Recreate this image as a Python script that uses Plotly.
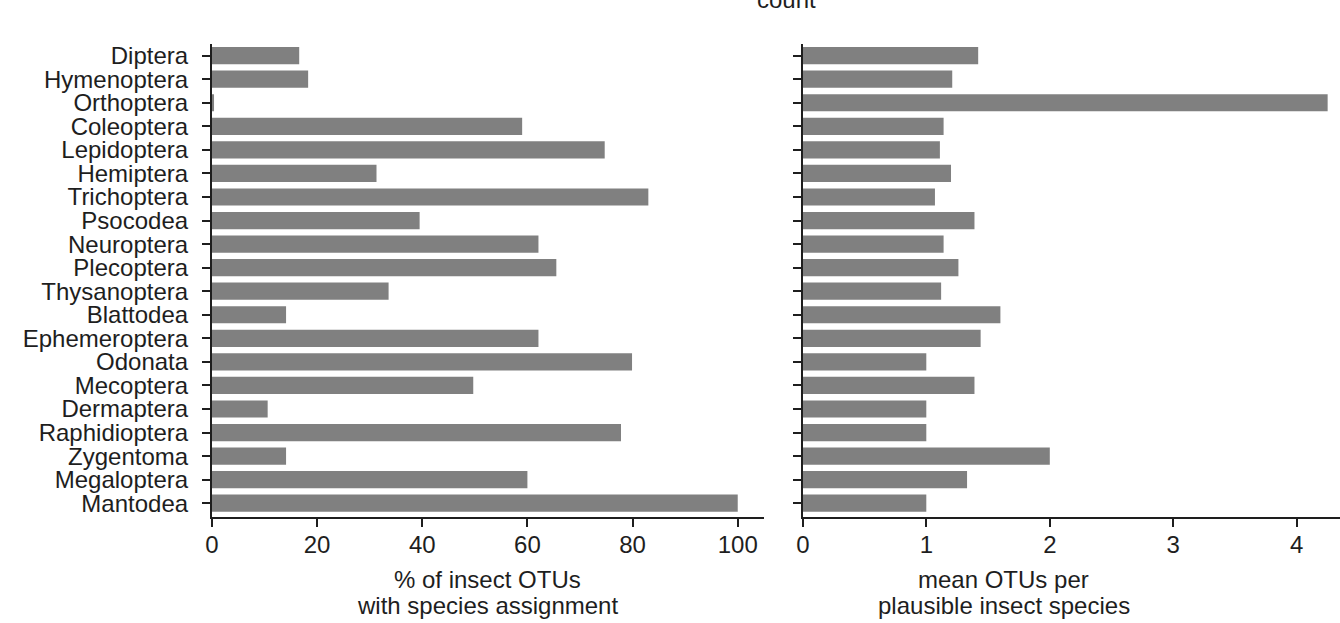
import plotly.graph_objects as go

# Insect orders, top to bottom
orders = [
    "Diptera", "Hymenoptera", "Orthoptera", "Coleoptera", "Lepidoptera",
    "Hemiptera", "Trichoptera", "Psocodea", "Neuroptera", "Plecoptera",
    "Thysanoptera", "Blattodea", "Ephemeroptera", "Odonata", "Mecoptera",
    "Dermaptera", "Raphidioptera", "Zygentoma", "Megaloptera", "Mantodea",
]

# % of insect OTUs with a species-level assignment
pct_assigned = [
    16.6, 18.3, 0.4, 59.0, 74.7,
    31.3, 83.0, 39.5, 62.1, 65.5,
    33.6, 14.1, 62.1, 79.9, 49.7,
    10.6, 77.8, 14.1, 60.0, 100.0,
]

# mean number of OTUs per plausible insect species
otus_per_species = [
    1.42, 1.21, 4.25, 1.14, 1.11,
    1.20, 1.07, 1.39, 1.14, 1.26,
    1.12, 1.60, 1.44, 1.00, 1.39,
    1.00, 1.00, 2.00, 1.33, 1.00,
]

left_ticks = [0, 20, 40, 60, 80, 100]
right_ticks = [0, 1, 2, 3, 4]

W, H = 1340, 623
BAR = "#808080"
INK = "#1e1e1e"
FONT = "Liberation Sans, Arial, sans-serif"


def px_x(p):
    return p / W


def px_y(p):
    return 1 - p / H


fig = go.Figure()
fig.add_trace(go.Bar(
    x=pct_assigned, y=orders, orientation="h",
    marker=dict(color=BAR, line=dict(width=0)),
    xaxis="x", yaxis="y", showlegend=False,
))
fig.add_trace(go.Bar(
    x=otus_per_species, y=orders, orientation="h",
    marker=dict(color=BAR, line=dict(width=0)),
    xaxis="x2", yaxis="y2", showlegend=False,
))

ydom = [px_y(517), px_y(42)]
common_y = dict(
    type="category", categoryorder="array", categoryarray=orders,
    tickmode="array", tickvals=orders, ticktext=orders,
    range=[19.6, -0.5], domain=ydom,
    showline=True, linecolor=INK, linewidth=2,
    ticks="outside", ticklen=8, tickwidth=2, tickcolor=INK,
    showgrid=False, zeroline=False, fixedrange=True,
)
common_x = dict(
    showline=True, linecolor=INK, linewidth=2,
    ticks="outside", ticklen=8, tickwidth=2, tickcolor=INK,
    showgrid=False, zeroline=False, ticklabelstandoff=-3,
    tickfont=dict(family=FONT, size=24, color=INK),
)

fig.update_layout(
    width=W, height=H,
    margin=dict(l=0, r=0, t=0, b=0),
    paper_bgcolor="white", plot_bgcolor="white",
    bargap=0.27,
    font=dict(family=FONT, color=INK),
    xaxis=dict(domain=[px_x(206), px_x(761)], range=[0, 105],
               tickvals=left_ticks, anchor="y", **common_x),
    yaxis=dict(anchor="x", showticklabels=True,
               tickfont=dict(family=FONT, size=24, color=INK),
               ticklabelstandoff=9, **common_y),
    xaxis2=dict(domain=[px_x(800), 1.0], range=[0, 4.35],
                tickvals=right_ticks, anchor="y2", **common_x),
    yaxis2=dict(anchor="x2", showticklabels=False, **common_y),
)

# axis titles, one annotation per line for tight line spacing
titles = [
    (483, ["% of insect OTUs", "with species assignment"]),
    (1002, ["mean OTUs per", "plausible insect species"]),
]
for cx, lines in titles:
    for ly, txt in zip([579, 605], lines):
        fig.add_annotation(
            x=px_x(cx), y=px_y(ly), xref="paper", yref="paper",
            text=txt, showarrow=False, xanchor="center", yanchor="middle",
            font=dict(family=FONT, size=24, color=INK),
        )

# label running off the top edge
fig.add_annotation(
    x=px_x(784), y=px_y(-3), xref="paper", yref="paper",
    text="count", showarrow=False, xanchor="center", yanchor="middle",
    font=dict(family=FONT, size=24, color=INK),
)

fig.write_html("out.html")
